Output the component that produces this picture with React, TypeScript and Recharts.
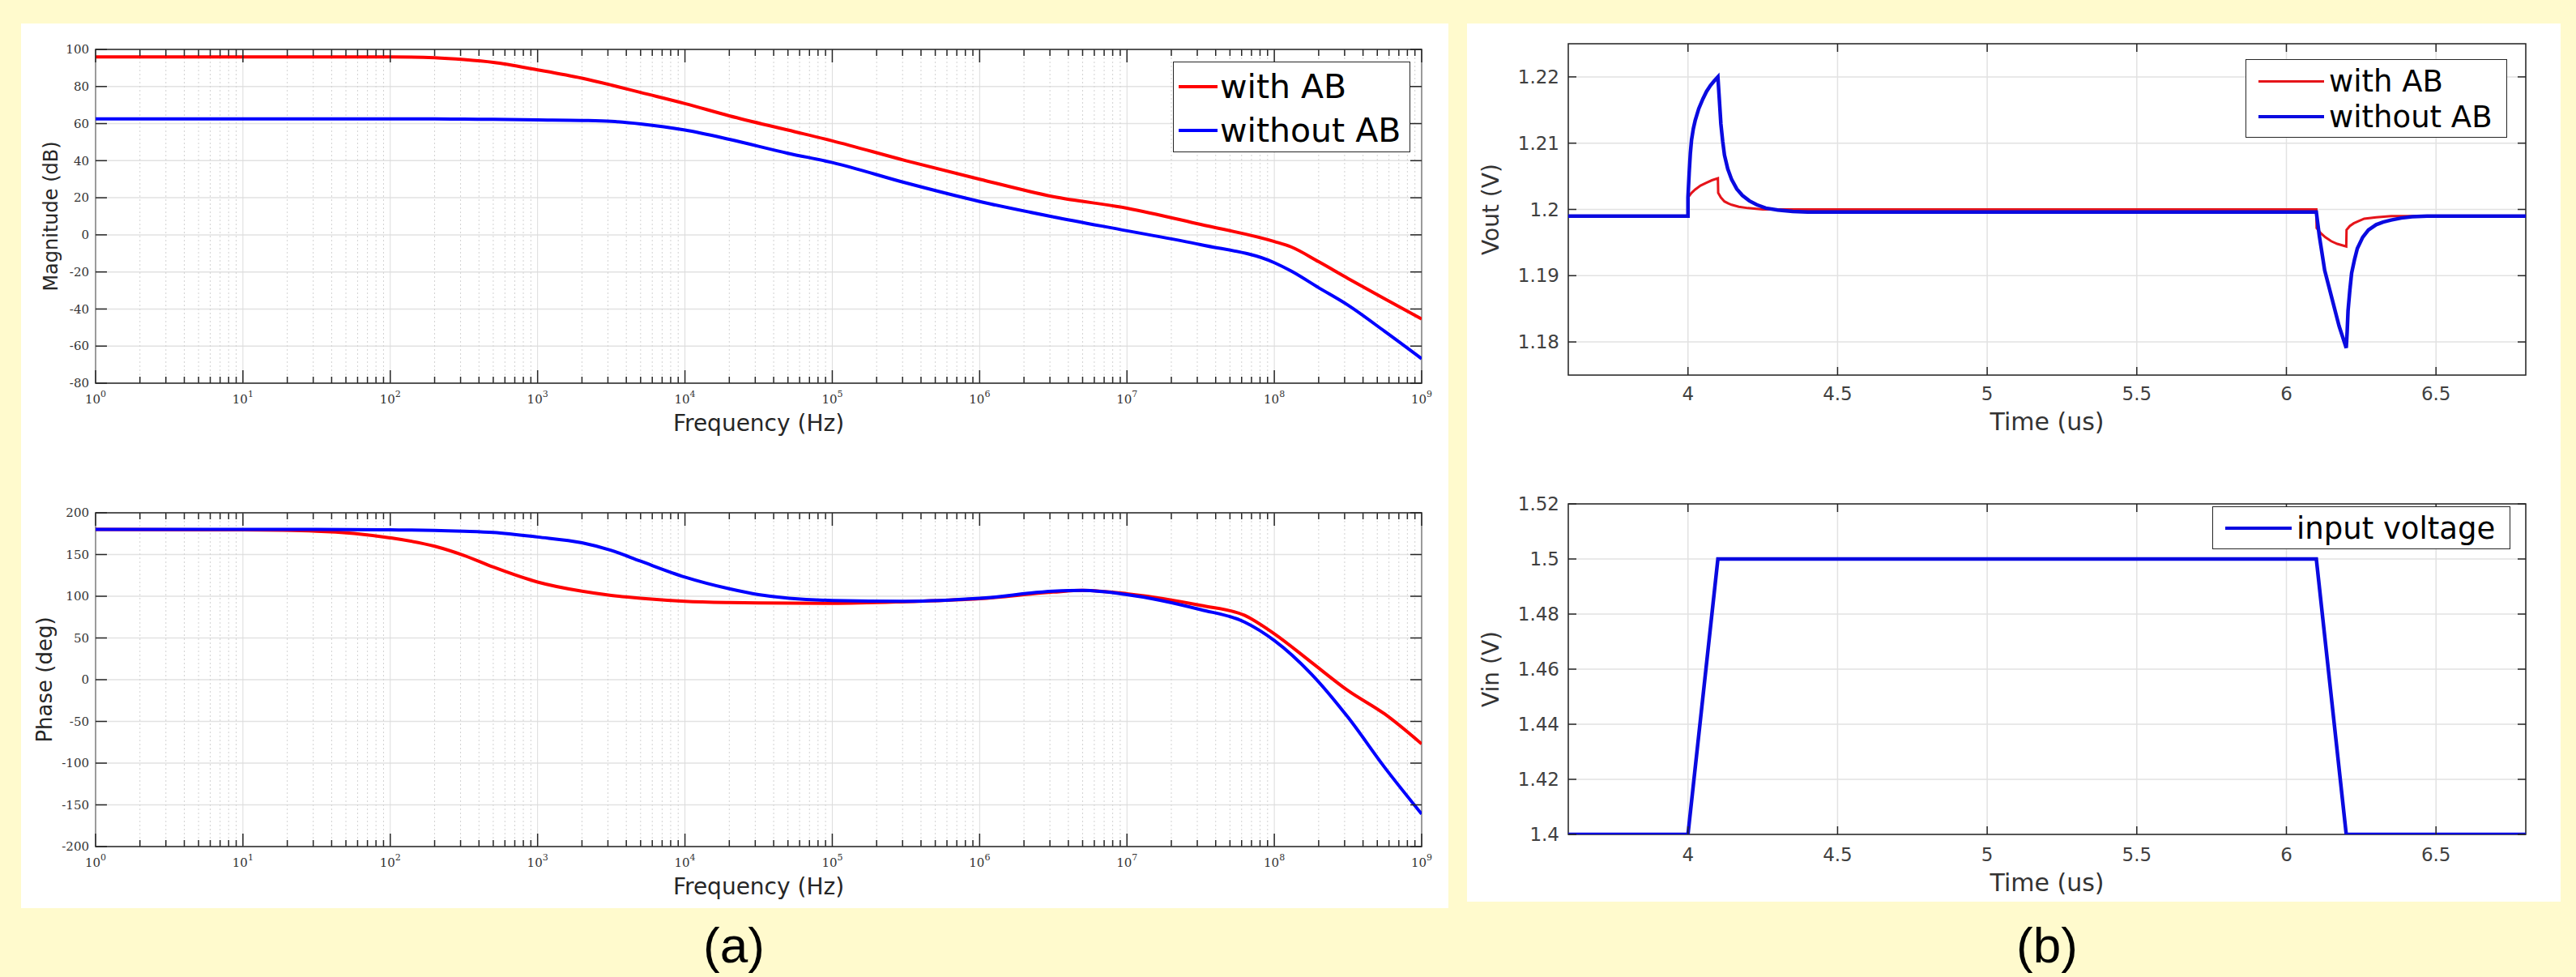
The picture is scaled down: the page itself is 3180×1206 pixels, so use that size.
import React from "react";
import {
  LineChart, Line, XAxis, YAxis, CartesianGrid,
  ReferenceLine, ReferenceArea, Legend,
} from "recharts";

// ---- (a) Bode plot ----
const decades = [1, 1e1, 1e2, 1e3, 1e4, 1e5, 1e6, 1e7, 1e8, 1e9];
const decadeExp = ["0", "1", "2", "3", "4", "5", "6", "7", "8", "9"];
const minorSteps = [2, 3, 4, 5, 6, 7, 8, 9];
const minorTicks = decades.slice(0, -1).flatMap((d) => minorSteps.map((m) => m * d));
const bodeTicks = [...decades, ...minorTicks].sort((a, b) => a - b);

const magTicks = [-80, -60, -40, -20, 0, 20, 40, 60, 80, 100];
const phaseTicks = [-200, -150, -100, -50, 0, 50, 100, 150, 200];

const magFreq = [1, 10, 100, 200, 316, 500, 1e3, 2e3, 3.16e3, 5e3, 1e4, 2e4, 5e4, 1e5, 3.16e5, 1e6, 3.16e6, 1e7, 3.16e7, 1e8, 1.3e8, 2e8, 3.16e8, 5.6e8, 1e9];
const magWithAB = [96, 96, 96, 95.5, 94.5, 93, 89, 84.5, 80.8, 76.8, 70.8, 64.2, 56.5, 50.7, 40, 30, 20.6, 14.4, 5.6, -3.6, -6.5, -14.5, -23.5, -34.5, -45.4];
const magWithoutAB = [62.5, 62.5, 62.5, 62.5, 62.4, 62.3, 62, 61.7, 61.2, 59.8, 56.5, 51.5, 44, 39, 28, 18, 9.7, 2.2, -5.3, -15, -19.5, -28.5, -37.9, -52, -66.8];

const phaseFreq = [1, 10, 31.6, 100, 200, 316, 500, 1e3, 2e3, 3.16e3, 5e3, 1e4, 2e4, 3.16e4, 1e5, 3.16e5, 1e6, 3.16e6, 5e6, 1e7, 3.16e7, 6.3e7, 1e8, 1.78e8, 3.16e8, 5.6e8, 1e9];
const phaseWithAB = [180, 179.5, 178, 170, 160, 149, 135, 117, 106, 101, 97.5, 94, 92.5, 92, 91.5, 93.5, 97, 105, 107, 103, 89, 77, 55, 21, -13, -41, -77];
const phaseWithoutAB = [180, 180, 180, 179.5, 179, 178, 176.5, 171, 164, 155, 142, 123, 109, 102, 95, 94, 97.5, 106, 107, 102, 84, 69, 47, 7, -45, -105, -161];

// ---- (b) transient response ----
const timeTicks = [4, 4.5, 5, 5.5, 6, 6.5];
const voutTicks = [1.18, 1.19, 1.2, 1.21, 1.22];
const vinTicks = [1.4, 1.42, 1.44, 1.46, 1.48, 1.5, 1.52];

const tRed = [3.6, 4.0, 4.0, 4.012, 4.024, 4.042, 4.06, 4.08, 4.1, 4.101, 4.11, 4.122, 4.135, 4.146, 4.17, 4.2, 4.25, 6.1, 6.101, 6.115, 6.13, 6.15, 6.17, 6.2, 6.201, 6.212, 6.225, 6.24, 6.26, 6.3, 6.35, 6.8];
const vRed = [1.199, 1.199, 1.2018, 1.2025, 1.203, 1.2036, 1.204, 1.2044, 1.2047, 1.2025, 1.2018, 1.2012, 1.2009, 1.2007, 1.2004, 1.2002, 1.2, 1.2, 1.1972, 1.1964, 1.1958, 1.1952, 1.1948, 1.1944, 1.1969, 1.1975, 1.1979, 1.1982, 1.1986, 1.1988, 1.199, 1.199];

const tBlue = [3.6, 4.0, 4.0, 4.004, 4.008, 4.012, 4.018, 4.024, 4.036, 4.05, 4.062, 4.075, 4.088, 4.1, 4.105, 4.11, 4.116, 4.122, 4.133, 4.146, 4.163, 4.182, 4.205, 4.23, 4.26, 4.3, 4.35, 4.4, 6.1, 6.11, 6.128, 6.152, 6.176, 6.2, 6.203, 6.206, 6.212, 6.218, 6.228, 6.237, 6.255, 6.274, 6.3, 6.323, 6.35, 6.384, 6.42, 6.47, 6.8];
const vBlue = [1.199, 1.199, 1.2018, 1.2055, 1.2085, 1.2105, 1.2122, 1.2134, 1.2152, 1.2167, 1.2178, 1.2187, 1.2194, 1.22, 1.2165, 1.2129, 1.2103, 1.2082, 1.2061, 1.2045, 1.2031, 1.2021, 1.2013, 1.2007, 1.2002, 1.1999, 1.1997, 1.1996, 1.1996, 1.196, 1.1908, 1.1866, 1.1824, 1.1791, 1.1815, 1.1847, 1.1878, 1.1904, 1.1925, 1.1941, 1.1958, 1.1969, 1.1977, 1.1981, 1.1984, 1.1987, 1.1989, 1.199, 1.199];

const tIn = [3.6, 4.0, 4.1, 6.1, 6.2, 6.8];
const vIn = [1.4, 1.4, 1.5, 1.5, 1.4, 1.4];

const magData = magFreq.map((f, i) => ({ f, withAB: magWithAB[i], withoutAB: magWithoutAB[i] }));
const phaseData = phaseFreq.map((f, i) => ({ f, withAB: phaseWithAB[i], withoutAB: phaseWithoutAB[i] }));
const redVout = tRed.map((t, i) => ({ t, v: vRed[i] }));
const blueVout = tBlue.map((t, i) => ({ t, v: vBlue[i] }));
const vinData = tIn.map((t, i) => ({ t, v: vIn[i] }));

const AX = "#262626";
const SANS = "'DejaVu Sans', Verdana, sans-serif";
const SERIF = "'DejaVu Serif', serif";

// ---- legend box ----
type LegendSpec = {
  w: number; h: number; x1: number; x2: number; textX: number;
  rows: number[]; fontSize: number; widths: number[];
};

function LegendBox({ payload, spec }: any) {
  const s: LegendSpec = spec;
  return (
    <div style={{
      position: "relative", width: s.w, height: s.h, boxSizing: "border-box",
      border: `1.5px solid ${AX}`, background: "#fff",
    }}>
      {(payload || []).map((e: any, i: number) => (
        <React.Fragment key={e.value}>
          <div style={{
            position: "absolute", left: s.x1, top: s.rows[i] - s.widths[i] / 2,
            width: s.x2 - s.x1, height: s.widths[i], background: e.color,
          }} />
          <div style={{
            position: "absolute", left: s.textX, top: s.rows[i], transform: "translateY(-50%)",
            fontSize: s.fontSize, lineHeight: 1, fontFamily: SANS, color: "#000", whiteSpace: "nowrap",
          }}>{e.value}</div>
        </React.Fragment>
      ))}
    </div>
  );
}

// ---- (a) ----
const BODE_LEFT = 26;
const BODE_W = 1762;
const BODE_YW = 92;
const BODE_MR = 33;
const BODE_PH = 412;
const BODE_PW = BODE_W - BODE_YW - BODE_MR;

function BodeXTick({ x, y, payload }: any) {
  const v = payload.value;
  const di = decades.indexOf(v);
  const len = di >= 0 ? 16 : 8;
  return (
    <g>
      <line x1={x} x2={x} y1={y} y2={y - len} stroke={AX} strokeWidth={1.5} />
      <line x1={x} x2={x} y1={y - BODE_PH} y2={y - BODE_PH + len} stroke={AX} strokeWidth={1.5} />
      {di >= 0 && (
        <text x={x} y={y + 25} textAnchor="middle" fontFamily={SERIF} fontSize={15} fill="#333">
          10<tspan dy={-8} fontSize={11}>{decadeExp[di]}</tspan>
        </text>
      )}
    </g>
  );
}

function BodeYTick({ x, y, payload }: any) {
  return (
    <g>
      <line x1={x} x2={x + 14} y1={y} y2={y} stroke={AX} strokeWidth={1.5} />
      <line x1={x + BODE_PW} x2={x + BODE_PW - 14} y1={y} y2={y} stroke={AX} strokeWidth={1.5} />
      <text x={x - 8} y={y} dy="0.35em" textAnchor="end" fontFamily={SERIF} fontSize={15} fill="#333">
        {payload.value}
      </text>
    </g>
  );
}

type BodeProps = {
  top: number; height: number; marginTop: number; xAxisH: number;
  data: any[]; yDomain: [number, number]; yTicks: number[];
  yLabel: string; yLabelGap: number; yLabelSize: number; legend?: boolean;
};

const bodeLegend: LegendSpec = {
  w: 293, h: 112, x1: 6, x2: 54, textX: 57, rows: [30, 84], fontSize: 41, widths: [4, 4],
};

function BodePlot(p: BodeProps) {
  return (
    <div style={{ position: "absolute", left: BODE_LEFT, top: p.top }}>
      <LineChart width={BODE_W} height={p.height} data={p.data}
        margin={{ top: p.marginTop, right: BODE_MR, left: 0, bottom: 0 }}>
        <CartesianGrid vertical={false} stroke="#e2e2e2" strokeWidth={1.5} />
        {minorTicks.map((v) => (
          <ReferenceLine key={"m" + v} x={v} stroke="#d2d2d2" strokeDasharray="2 3" />
        ))}
        {decades.map((v) => (
          <ReferenceLine key={"d" + v} x={v} stroke="#dcdcdc" />
        ))}
        <XAxis dataKey="f" type="number" scale="log" domain={[1, 1e9]} ticks={bodeTicks}
          interval={0} allowDataOverflow axisLine={false} tickLine={false}
          tickSize={0} tickMargin={0} height={p.xAxisH}
          tick={(t: any) => <BodeXTick {...t} />}
          label={(lp: any) => {
            const vb = lp.viewBox;
            return (
              <text x={vb.x + vb.width / 2} y={vb.y + 59} textAnchor="middle"
                fontFamily={SANS} fontSize={28} fill={AX}>Frequency (Hz)</text>
            );
          }} />
        <YAxis type="number" domain={p.yDomain} ticks={p.yTicks} interval={0}
          allowDataOverflow axisLine={false} tickLine={false}
          tickSize={0} tickMargin={0} width={BODE_YW}
          tick={(t: any) => <BodeYTick {...t} />}
          label={(lp: any) => {
            const vb = lp.viewBox;
            const cx = vb.x + vb.width - p.yLabelGap;
            const cy = vb.y + vb.height / 2;
            return (
              <text x={cx} y={cy} dy="0.35em" textAnchor="middle" transform={`rotate(-90 ${cx} ${cy})`}
                fontFamily={SANS} fontSize={p.yLabelSize} fill={AX}>{p.yLabel}</text>
            );
          }} />
        <ReferenceArea x1={1} x2={1e9} y1={p.yDomain[0]} y2={p.yDomain[1]}
          fill="none" stroke={AX} strokeWidth={1.5} />
        <Line dataKey="withAB" name="with AB" type="monotone" stroke="#ff0000"
          strokeWidth={4} dot={false} isAnimationActive={false} />
        <Line dataKey="withoutAB" name="without AB" type="monotone" stroke="#0000ff"
          strokeWidth={4} dot={false} isAnimationActive={false} />
        {p.legend && (
          <Legend layout="vertical" align="center" verticalAlign="middle"
            wrapperStyle={{ left: 1422, top: 47 }}
            content={(lp: any) => <LegendBox payload={lp.payload} spec={bodeLegend} />} />
        )}
      </LineChart>
    </div>
  );
}

// ---- (b) ----
const TR_LEFT = 1811;
const TR_W = 1350;
const TR_YW = 125;
const TR_MR = 43;
const TR_PW = TR_W - TR_YW - TR_MR;

function TimeXTick({ x, y, payload, plotH, labelDy }: any) {
  return (
    <g>
      <line x1={x} x2={x} y1={y} y2={y - 10} stroke={AX} strokeWidth={1.5} />
      <line x1={x} x2={x} y1={y - plotH} y2={y - plotH + 10} stroke={AX} strokeWidth={1.5} />
      <text x={x} y={y + labelDy} textAnchor="middle" fontFamily={SANS} fontSize={23} fill="#404040">
        {String(payload.value)}
      </text>
    </g>
  );
}

function VoltYTick({ x, y, payload }: any) {
  return (
    <g>
      <line x1={x} x2={x + 10} y1={y} y2={y} stroke={AX} strokeWidth={1.5} />
      <line x1={x + TR_PW} x2={x + TR_PW - 10} y1={y} y2={y} stroke={AX} strokeWidth={1.5} />
      <text x={x - 11} y={y} dy="0.35em" textAnchor="end" fontFamily={SANS} fontSize={23} fill="#404040">
        {String(payload.value)}
      </text>
    </g>
  );
}

type TrProps = {
  top: number; height: number; marginTop: number; plotH: number;
  yDomain: [number, number]; yTicks: number[]; yLabel: string;
  tickDy: number; titleDy: number; legendPos: { left: number; top: number };
  legendSpec: LegendSpec; children: React.ReactNode;
};

function TransientPlot(p: TrProps) {
  return (
    <div style={{ position: "absolute", left: TR_LEFT, top: p.top }}>
      <LineChart width={TR_W} height={p.height}
        margin={{ top: p.marginTop, right: TR_MR, left: 0, bottom: 0 }}>
        <CartesianGrid stroke="#e2e2e2" strokeWidth={1.5} />
        <XAxis dataKey="t" type="number" domain={[3.6, 6.8]} ticks={timeTicks} interval={0}
          allowDataOverflow axisLine={false} tickLine={false} tickSize={0} tickMargin={0}
          height={p.height - p.marginTop - p.plotH}
          tick={(t: any) => <TimeXTick {...t} plotH={p.plotH} labelDy={p.tickDy} />}
          label={(lp: any) => {
            const vb = lp.viewBox;
            return (
              <text x={vb.x + vb.width / 2} y={vb.y + p.titleDy} textAnchor="middle"
                fontFamily={SANS} fontSize={30} fill="#333">Time (us)</text>
            );
          }} />
        <YAxis type="number" domain={p.yDomain} ticks={p.yTicks} interval={0}
          allowDataOverflow axisLine={false} tickLine={false} tickSize={0} tickMargin={0}
          width={TR_YW} tick={(t: any) => <VoltYTick {...t} />}
          label={(lp: any) => {
            const vb = lp.viewBox;
            const cx = vb.x + vb.width - 96;
            const cy = vb.y + vb.height / 2;
            return (
              <text x={cx} y={cy} dy="0.35em" textAnchor="middle" transform={`rotate(-90 ${cx} ${cy})`}
                fontFamily={SANS} fontSize={28} fill="#333">{p.yLabel}</text>
            );
          }} />
        <ReferenceArea x1={3.6} x2={6.8} y1={p.yDomain[0]} y2={p.yDomain[1]}
          fill="none" stroke={AX} strokeWidth={1.5} />
        {p.children}
        <Legend layout="vertical" align="center" verticalAlign="middle"
          wrapperStyle={p.legendPos}
          content={(lp: any) => <LegendBox payload={lp.payload} spec={p.legendSpec} />} />
      </LineChart>
    </div>
  );
}

const voutLegend: LegendSpec = {
  w: 323, h: 97, x1: 15, x2: 96, textX: 102, rows: [26, 70], fontSize: 37, widths: [3, 4.5],
};
const vinLegend: LegendSpec = {
  w: 368, h: 53, x1: 15, x2: 97, textX: 103, rows: [26], fontSize: 37, widths: [4.5],
};

export default function App() {
  return (
    <div style={{
      position: "relative", width: 3180, height: 1206, overflow: "hidden",
      background: "#FFFACD", fontFamily: SANS,
    }}>
      <style>{"body{margin:0}"}</style>
      <div style={{ position: "absolute", left: 26, top: 29, width: 1762, height: 1092, background: "#fff" }} />
      <div style={{ position: "absolute", left: 1811, top: 29, width: 1350, height: 1084, background: "#fff" }} />

      <BodePlot top={29} height={540} marginTop={32} xAxisH={96} data={magData}
        yDomain={[-80, 100]} yTicks={magTicks} yLabel="Magnitude (dB)" yLabelGap={55}
        yLabelSize={24} legend />
      <BodePlot top={569} height={552} marginTop={64} xAxisH={76} data={phaseData}
        yDomain={[-200, 200]} yTicks={phaseTicks} yLabel="Phase (deg)" yLabelGap={63}
        yLabelSize={26} />

      <TransientPlot top={29} height={541} marginTop={25} plotH={409}
        yDomain={[1.175, 1.225]} yTicks={voutTicks} yLabel="Vout (V)"
        tickDy={31} titleDy={68} legendPos={{ left: 961, top: 44 }} legendSpec={voutLegend}>
        <Line data={redVout} dataKey="v" name="with AB" type="linear" stroke="#e5141a"
          strokeWidth={3} dot={false} isAnimationActive={false} />
        <Line data={blueVout} dataKey="v" name="without AB" type="linear" stroke="#0a0ae0"
          strokeWidth={4.5} dot={false} isAnimationActive={false} />
      </TransientPlot>
      <TransientPlot top={570} height={543} marginTop={52} plotH={408}
        yDomain={[1.4, 1.52]} yTicks={vinTicks} yLabel="Vin (V)"
        tickDy={33} titleDy={70} legendPos={{ left: 920, top: 55 }} legendSpec={vinLegend}>
        <Line data={vinData} dataKey="v" name="input voltage" type="linear" stroke="#0a0ae0"
          strokeWidth={4.5} dot={false} isAnimationActive={false} />
      </TransientPlot>

      <div style={{
        position: "absolute", left: 906, top: 1186, transform: "translate(-50%, -80%)",
        fontFamily: "'Liberation Sans', Arial, sans-serif", fontSize: 62, lineHeight: 1, color: "#000",
      }}>(a)</div>
      <div style={{
        position: "absolute", left: 2527, top: 1186, transform: "translate(-50%, -80%)",
        fontFamily: "'Liberation Sans', Arial, sans-serif", fontSize: 62, lineHeight: 1, color: "#000",
      }}>(b)</div>
    </div>
  );
}
